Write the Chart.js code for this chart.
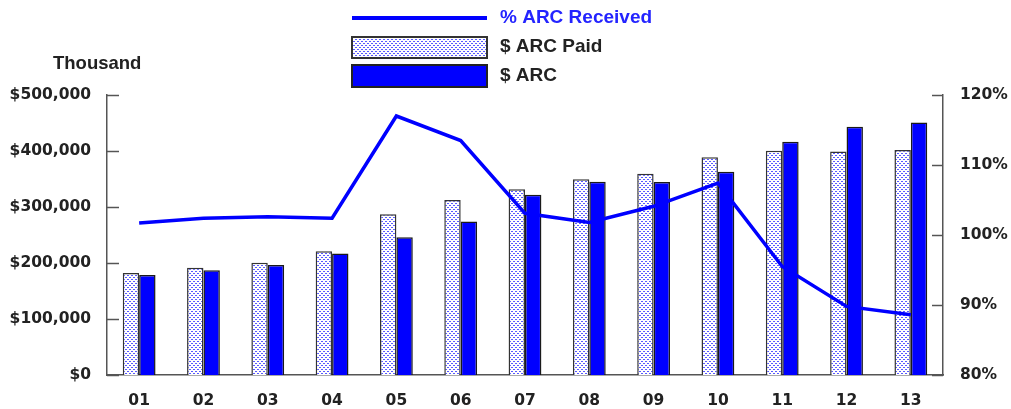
<!DOCTYPE html>
<html>
<head>
<meta charset="utf-8">
<title>ARC Paid vs ARC</title>
<script src="https://cdn.jsdelivr.net/npm/chart.js@4/dist/chart.umd.min.js"></script>
<style>
  html, body { margin: 0; padding: 0; background: #ffffff; }
  #wrap { width: 1011px; height: 409px; position: relative; }
</style>
</head>
<body>
<div id="wrap"><canvas id="chart" width="1011" height="409"></canvas></div>
<script>
// Periods shown along the bottom axis
const categories = ['01', '02', '03', '04', '05', '06', '07', '08', '09', '10', '11', '12', '13'];

// Dollar amounts (thousands)
const arcPaid = [182000, 191500, 200500, 221000, 287000, 312500, 331500, 349500, 359500, 389000, 400500, 399000, 402000];
const arcTotal = [178500, 187000, 196500, 217000, 246000, 274000, 322000, 345000, 344500, 363000, 416500, 443500, 451000];

// Share of ARC received, percent
const pctReceived = [101.7, 102.4, 102.6, 102.4, 117.0, 113.5, 103.1, 101.8, 104.1, 107.4, 95.5, 89.8, 88.6];

// Axis ranges and tick steps
const dollarTicks = { min: 0, max: 500000, step: 100000 };
const pctTicks = { min: 80, max: 120, step: 10 };

const seriesNames = { pct: '% ARC Received', paid: '$ ARC Paid', arc: '$ ARC' };

const BLUE = '#0000ff';
const INK = '#222222';
const AXIS = '#555555';
const tickFont = { family: '"DejaVu Sans", sans-serif', weight: 'bold', size: 15.5 };

// White fill with a fine blue dot grid
function dotPattern() {
  const c = document.createElement('canvas');
  c.width = 4; c.height = 4;
  const g = c.getContext('2d');
  g.fillStyle = '#ffffff';
  g.fillRect(0, 0, 4, 4);
  g.fillStyle = '#5a5aff';
  g.fillRect(1, 1, 2, 1);
  g.fillRect(3, 3, 1, 1);
  g.fillRect(0, 3, 1, 1);
  return g.createPattern(c, 'repeat');
}
const dots = dotPattern();

// Short tick marks pointing into the plot from both value axes
const inwardTicks = {
  id: 'inwardTicks',
  afterDatasetsDraw(chart) {
    const ctx = chart.ctx;
    const area = chart.chartArea;
    ctx.save();
    ctx.strokeStyle = AXIS;
    ctx.lineWidth = 1.5;
    const left = chart.scales.y;
    left.ticks.forEach((t, i) => {
      const y = Math.round(left.getPixelForTick(i)) + 0.5;
      ctx.beginPath(); ctx.moveTo(area.left, y); ctx.lineTo(area.left + 12, y); ctx.stroke();
    });
    const right = chart.scales.y1;
    right.ticks.forEach((t, i) => {
      const y = Math.round(right.getPixelForTick(i)) + 0.5;
      ctx.beginPath(); ctx.moveTo(area.right, y); ctx.lineTo(area.right - 11, y); ctx.stroke();
    });
    ctx.restore();
  }
};

// Stacked legend at the top and the unit caption above the left axis
const headerBlock = {
  id: 'headerBlock',
  afterDraw(chart) {
    const ctx = chart.ctx;
    const ds = chart.data.datasets;
    ctx.save();
    ctx.font = 'bold 19px "Liberation Sans", Arial, sans-serif';
    ctx.textBaseline = 'middle';
    ctx.textAlign = 'left';

    // line sample
    ctx.strokeStyle = BLUE;
    ctx.lineWidth = 4;
    ctx.beginPath(); ctx.moveTo(352, 18); ctx.lineTo(487, 18); ctx.stroke();
    ctx.fillStyle = '#2424ff';
    ctx.fillText(ds[0].label, 500, 18);

    // dotted box
    ctx.fillStyle = dots;
    ctx.fillRect(352, 37, 135, 21);
    ctx.strokeStyle = '#333333';
    ctx.lineWidth = 2;
    ctx.strokeRect(352, 37, 135, 21);
    ctx.fillStyle = INK;
    ctx.fillText(ds[1].label, 500, 47);

    // solid box
    ctx.fillStyle = BLUE;
    ctx.fillRect(352, 65, 135, 22);
    ctx.strokeStyle = '#222222';
    ctx.strokeRect(352, 65, 135, 22);
    ctx.fillStyle = INK;
    ctx.fillText(ds[2].label, 500, 76);

    ctx.font = 'bold 18.5px "Liberation Sans", Arial, sans-serif';
    ctx.fillText('Thousand', 53, 64);
    ctx.restore();
  }
};

new Chart(document.getElementById('chart'), {
  data: {
    labels: categories,
    datasets: [
      {
        type: 'line',
        label: seriesNames.pct,
        data: pctReceived,
        yAxisID: 'y1',
        borderColor: BLUE,
        backgroundColor: BLUE,
        borderWidth: 3.5,
        pointRadius: 0,
        tension: 0,
        order: 0
      },
      {
        type: 'bar',
        label: seriesNames.paid,
        data: arcPaid,
        yAxisID: 'y',
        backgroundColor: dots,
        borderColor: '#333333',
        borderWidth: 1.5,
        categoryPercentage: 0.51,
        barPercentage: 1.0,
        order: 1
      },
      {
        type: 'bar',
        label: seriesNames.arc,
        data: arcTotal,
        yAxisID: 'y',
        backgroundColor: BLUE,
        borderColor: '#1a1a1a',
        borderWidth: 1.5,
        categoryPercentage: 0.51,
        barPercentage: 1.0,
        order: 1
      }
    ]
  },
  options: {
    responsive: false,
    animation: false,
    layout: { padding: { top: 95, left: 0, right: 0, bottom: 0 } },
    plugins: {
      legend: { display: false },
      tooltip: { enabled: false }
    },
    scales: {
      x: {
        grid: { display: false, drawTicks: false },
        border: { display: true, color: AXIS, width: 1.5 },
        ticks: { color: INK, font: tickFont, padding: 17, maxRotation: 0 },
        afterFit(scale) { scale.height = 34; }
      },
      y: {
        position: 'left',
        min: dollarTicks.min,
        max: dollarTicks.max,
        grid: { display: false, drawTicks: false },
        border: { display: true, color: AXIS, width: 1.5 },
        ticks: {
          stepSize: dollarTicks.step,
          color: INK,
          font: tickFont,
          padding: 16,
          callback: v => '$' + Number(v).toLocaleString('en-US')
        },
        afterFit(scale) { scale.width = 107; }
      },
      y1: {
        position: 'right',
        min: pctTicks.min,
        max: pctTicks.max,
        grid: { display: false, drawTicks: false },
        border: { display: true, color: AXIS, width: 1.5 },
        ticks: {
          stepSize: pctTicks.step,
          color: INK,
          font: tickFont,
          padding: 17,
          callback: v => v + '%'
        },
        afterFit(scale) { scale.width = 68; }
      }
    }
  },
  plugins: [inwardTicks, headerBlock]
});
</script>
</body>
</html>
